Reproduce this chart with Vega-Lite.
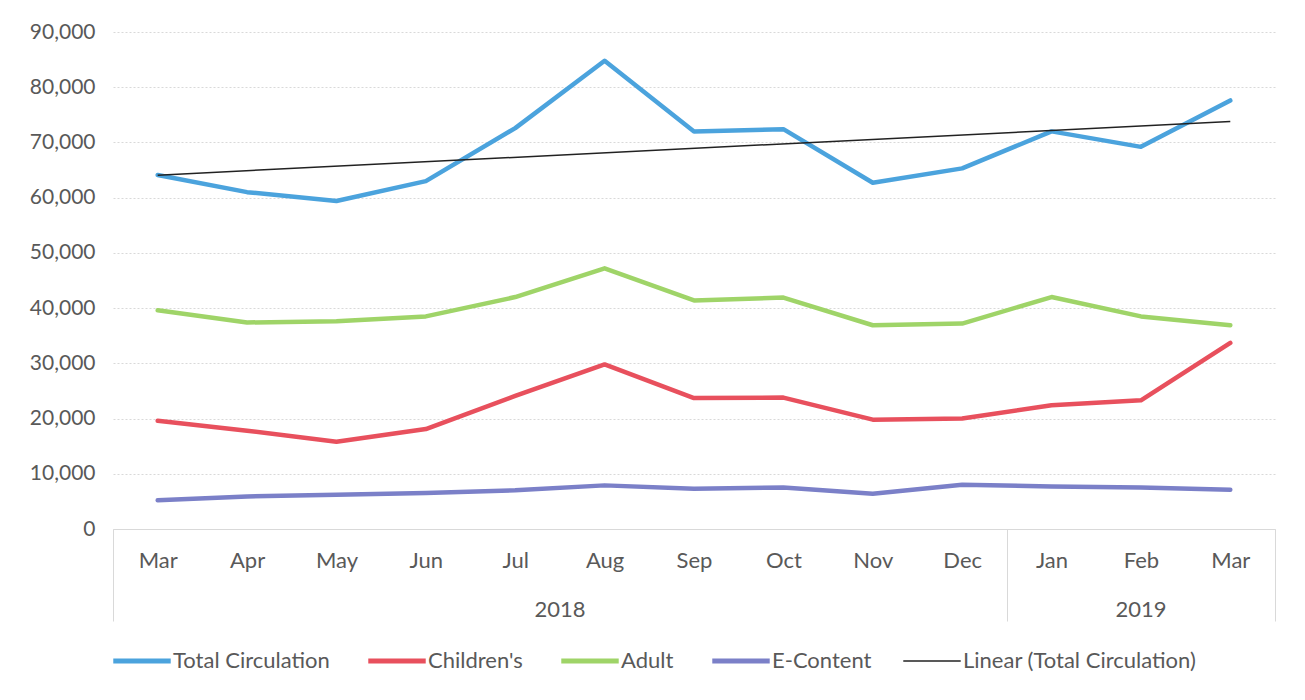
{
  "$schema": "https://vega.github.io/schema/vega-lite/v6.json",
  "width": 1162,
  "height": 497,
  "autosize": "none",
  "padding": {"left": 113, "top": 32, "right": 30, "bottom": 171},
  "background": "white",
  "config": {"view": {"stroke": null}, "font": "Lato"},
  "datasets": {
    "circ": [
      {"period": "Mar 2018", "year": "2018", "t": 0, "series": "Total Circulation", "value": 64100},
      {"period": "Apr 2018", "year": "2018", "t": 1, "series": "Total Circulation", "value": 61000},
      {"period": "May 2018", "year": "2018", "t": 2, "series": "Total Circulation", "value": 59400},
      {"period": "Jun 2018", "year": "2018", "t": 3, "series": "Total Circulation", "value": 63000},
      {"period": "Jul 2018", "year": "2018", "t": 4, "series": "Total Circulation", "value": 72600},
      {"period": "Aug 2018", "year": "2018", "t": 5, "series": "Total Circulation", "value": 84800},
      {"period": "Sep 2018", "year": "2018", "t": 6, "series": "Total Circulation", "value": 72000},
      {"period": "Oct 2018", "year": "2018", "t": 7, "series": "Total Circulation", "value": 72400},
      {"period": "Nov 2018", "year": "2018", "t": 8, "series": "Total Circulation", "value": 62700},
      {"period": "Dec 2018", "year": "2018", "t": 9, "series": "Total Circulation", "value": 65300},
      {"period": "Jan 2019", "year": "2019", "t": 10, "series": "Total Circulation", "value": 72000},
      {"period": "Feb 2019", "year": "2019", "t": 11, "series": "Total Circulation", "value": 69200},
      {"period": "Mar 2019", "year": "2019", "t": 12, "series": "Total Circulation", "value": 77600},
      {"period": "Mar 2018", "year": "2018", "t": 0, "series": "Children's", "value": 19600},
      {"period": "Apr 2018", "year": "2018", "t": 1, "series": "Children's", "value": 17800},
      {"period": "May 2018", "year": "2018", "t": 2, "series": "Children's", "value": 15800},
      {"period": "Jun 2018", "year": "2018", "t": 3, "series": "Children's", "value": 18100},
      {"period": "Jul 2018", "year": "2018", "t": 4, "series": "Children's", "value": 24100},
      {"period": "Aug 2018", "year": "2018", "t": 5, "series": "Children's", "value": 29800},
      {"period": "Sep 2018", "year": "2018", "t": 6, "series": "Children's", "value": 23700},
      {"period": "Oct 2018", "year": "2018", "t": 7, "series": "Children's", "value": 23800},
      {"period": "Nov 2018", "year": "2018", "t": 8, "series": "Children's", "value": 19800},
      {"period": "Dec 2018", "year": "2018", "t": 9, "series": "Children's", "value": 20000},
      {"period": "Jan 2019", "year": "2019", "t": 10, "series": "Children's", "value": 22400},
      {"period": "Feb 2019", "year": "2019", "t": 11, "series": "Children's", "value": 23300},
      {"period": "Mar 2019", "year": "2019", "t": 12, "series": "Children's", "value": 33700},
      {"period": "Mar 2018", "year": "2018", "t": 0, "series": "Adult", "value": 39600},
      {"period": "Apr 2018", "year": "2018", "t": 1, "series": "Adult", "value": 37400},
      {"period": "May 2018", "year": "2018", "t": 2, "series": "Adult", "value": 37600},
      {"period": "Jun 2018", "year": "2018", "t": 3, "series": "Adult", "value": 38500},
      {"period": "Jul 2018", "year": "2018", "t": 4, "series": "Adult", "value": 42000},
      {"period": "Aug 2018", "year": "2018", "t": 5, "series": "Adult", "value": 47200},
      {"period": "Sep 2018", "year": "2018", "t": 6, "series": "Adult", "value": 41400},
      {"period": "Oct 2018", "year": "2018", "t": 7, "series": "Adult", "value": 41900},
      {"period": "Nov 2018", "year": "2018", "t": 8, "series": "Adult", "value": 36900},
      {"period": "Dec 2018", "year": "2018", "t": 9, "series": "Adult", "value": 37200},
      {"period": "Jan 2019", "year": "2019", "t": 10, "series": "Adult", "value": 42000},
      {"period": "Feb 2019", "year": "2019", "t": 11, "series": "Adult", "value": 38500},
      {"period": "Mar 2019", "year": "2019", "t": 12, "series": "Adult", "value": 36900},
      {"period": "Mar 2018", "year": "2018", "t": 0, "series": "E-Content", "value": 5200},
      {"period": "Apr 2018", "year": "2018", "t": 1, "series": "E-Content", "value": 5900},
      {"period": "May 2018", "year": "2018", "t": 2, "series": "E-Content", "value": 6200},
      {"period": "Jun 2018", "year": "2018", "t": 3, "series": "E-Content", "value": 6500},
      {"period": "Jul 2018", "year": "2018", "t": 4, "series": "E-Content", "value": 7000},
      {"period": "Aug 2018", "year": "2018", "t": 5, "series": "E-Content", "value": 7900},
      {"period": "Sep 2018", "year": "2018", "t": 6, "series": "E-Content", "value": 7300},
      {"period": "Oct 2018", "year": "2018", "t": 7, "series": "E-Content", "value": 7500},
      {"period": "Nov 2018", "year": "2018", "t": 8, "series": "E-Content", "value": 6400},
      {"period": "Dec 2018", "year": "2018", "t": 9, "series": "E-Content", "value": 8000},
      {"period": "Jan 2019", "year": "2019", "t": 10, "series": "E-Content", "value": 7700},
      {"period": "Feb 2019", "year": "2019", "t": 11, "series": "E-Content", "value": 7500},
      {"period": "Mar 2019", "year": "2019", "t": 12, "series": "E-Content", "value": 7100}
    ]
  },
  "data": {"name": "circ"},
  "layer": [
    {
      "mark": {"type": "line", "strokeWidth": 4.5, "strokeCap": "round", "strokeJoin": "round"},
      "encoding": {
        "x": {
          "field": "period", "type": "ordinal", "sort": null,
          "scale": {"type": "point", "padding": 0.5},
          "axis": {
            "orient": "bottom", "title": null, "labelExpr": "split(datum.value, ' ')[0]",
            "labelAngle": 0, "ticks": false, "domain": true, "domainColor": "#d9d9d9",
            "labelPadding": 21, "labelFontSize": 22, "labelColor": "#595959", "grid": false
          }
        },
        "y": {
          "field": "value", "type": "quantitative",
          "scale": {"domain": [0, 90000], "nice": false},
          "axis": {
            "title": null, "values": [0, 10000, 20000, 30000, 40000, 50000, 60000, 70000, 80000, 90000],
            "format": ",d", "grid": true, "gridColor": "#d9d9d9", "gridDash": [2, 2],
            "domain": false, "ticks": false, "labelPadding": 18, "labelFontSize": 21, "labelColor": "#595959"
          }
        },
        "color": {
          "field": "series", "type": "nominal",
          "scale": {
            "domain": ["Total Circulation", "Children's", "Adult", "E-Content", "Linear (Total Circulation)"],
            "range": ["#4BA3DD", "#E8505D", "#9FD468", "#7B80C8", "#222222"]
          },
          "legend": {
            "orient": "none", "legendX": 18, "legendY": 618, "direction": "horizontal", "title": null,
            "symbolType": "stroke", "symbolSize": 3300, "symbolStrokeWidth": 5,
            "labelFontSize": 22, "labelColor": "#595959", "labelLimit": 400, "columnPadding": 28, "labelOffset": 20,
            "encode": {"symbols": {"update": {"strokeWidth": {"signal": "datum.value === 'Linear (Total Circulation)' ? 1.5 : 5"}}}}
          }
        }
      }
    },
    {
      "layer": [
        {
          "transform": [
            {"filter": "datum.series === 'Total Circulation'"},
            {"regression": "value", "on": "t"}
          ],
          "mark": {"type": "line", "strokeWidth": 1.5},
          "encoding": {
            "x": {
              "field": "t", "type": "quantitative",
              "scale": {"domain": [-0.5, 12.5], "nice": false, "zero": false},
              "axis": {
                "orient": "bottom", "values": [-0.5, 9.5, 12.5], "labels": false, "domain": false,
                "grid": false, "ticks": true, "tickSize": 92, "tickColor": "#d9d9d9", "tickWidth": 1, "title": null
              }
            },
            "y": {"field": "value", "type": "quantitative"},
            "color": {"datum": "Linear (Total Circulation)"}
          }
        },
        {
          "transform": [{"filter": "datum.series === 'Total Circulation'"}],
          "mark": {"type": "text", "fontSize": 22, "color": "#595959", "baseline": "middle"},
          "encoding": {
            "x": {"field": "t", "aggregate": "mean", "type": "quantitative", "axis": {"title": null}},
            "y": {"value": 578},
            "text": {"field": "year"}
          }
        }
      ]
    }
  ],
  "resolve": {"scale": {"x": "independent"}}
}
